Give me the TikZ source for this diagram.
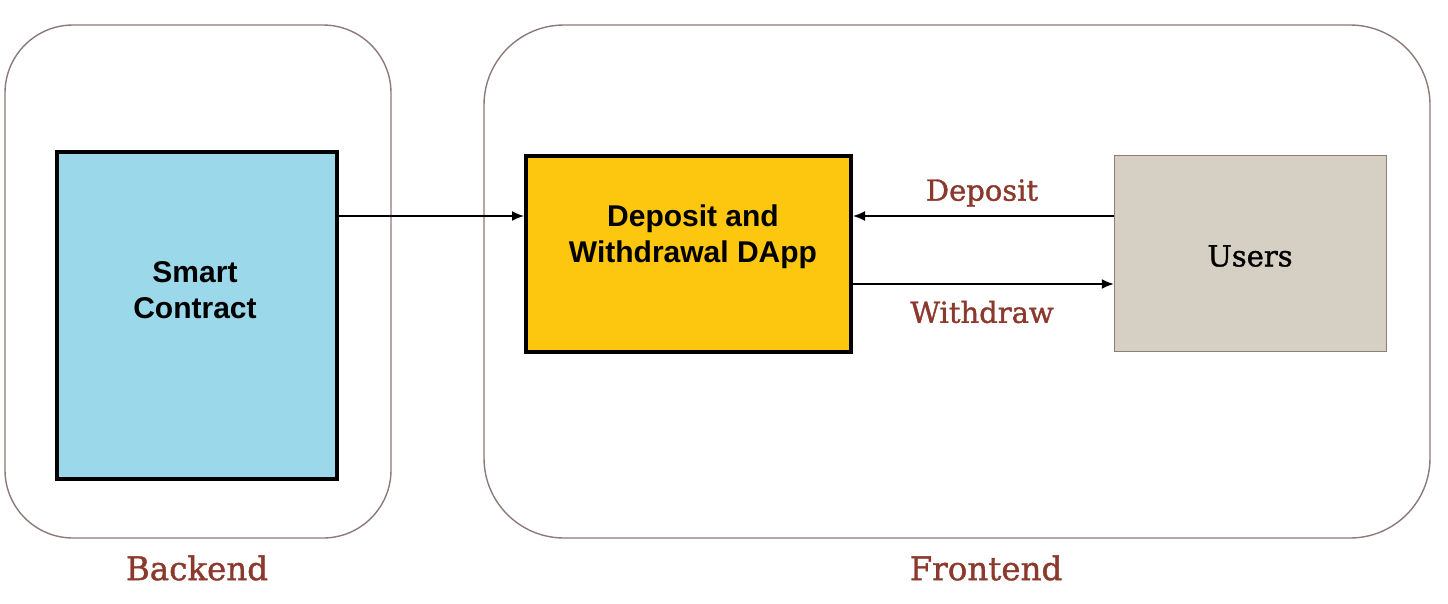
\documentclass[tikz,border=0pt]{standalone}
\usepackage{fontspec}
\setmainfont{DejaVu Serif}
\setsansfont{Liberation Sans}
\newfontfamily\slab[FakeBold=1.2]{DejaVu Serif}
\usetikzlibrary{arrows.meta,calc}
\definecolor{labred}{RGB}{139,57,45}
\definecolor{groupline}{RGB}{140,122,120}
\definecolor{scblue}{RGB}{155,216,233}
\definecolor{dappyellow}{RGB}{252,199,14}
\definecolor{userfill}{RGB}{214,207,195}
\definecolor{userline}{RGB}{142,125,116}
\tikzset{
  group/.style={draw=groupline, line width=1.4pt},
  thickbox/.style={draw=black, line width=4pt, inner sep=0pt},
  boxtext/.style={font=\sffamily\bfseries\fontsize{30}{36.5}\selectfont, align=center, text=black},
  lab/.style={font=\slab\fontsize{29}{34}\selectfont, text=labred},
  grouplab/.style={font=\slab\fontsize{32.5}{38}\selectfont, text=labred},
  conn/.style={draw=black, line width=1.5pt, -{Latex[length=12pt,width=10pt]}}
}
\begin{document}
\begin{tikzpicture}[x=1pt,y=-1pt]
\useasboundingbox (0,0) rectangle (1448,603);
% group boxes
\draw[group, rounded corners=68pt] (5,25) rectangle (391,538);
\draw[group, rounded corners=80pt] (484,25) rectangle (1430,538);
% nodes
\node[thickbox, fill=scblue, minimum width=280pt, minimum height=327pt] (sc) at (197,315.5) {};
\node[boxtext] (sctext) at (195,290) {Smart\\Contract};
\node[thickbox, fill=dappyellow, minimum width=325pt, minimum height=196pt] (dapp) at (688.5,254) {};
\node[boxtext] (dapptext) at (693,236.5) {Deposit and\\Withdrawal DApp};
\node[draw=userline, line width=1.5pt, fill=userfill, minimum width=272pt, minimum height=196pt, inner sep=0pt] (users) at (1250.5,253.5) {};
\node[font=\slab\fontsize{29}{32}\selectfont, text=black] (userstext) at (1250,256) {Users};
% connectors
\draw[conn] (sc.east |- 0,216) -- (dapp.west |- 0,216);
\draw[conn] (users.west |- 0,216) -- (dapp.east |- 0,216);
\draw[conn] (dapp.east |- 0,284) -- (users.west |- 0,284);
% labels
\node[lab] (deplab) at (982,193) {Deposit};
\node[lab] (wdlab) at (982,312) {Withdraw};
\node[grouplab] (backlab) at (197,568) {Backend};
\node[grouplab] (frontlab) at (986,568) {Frontend};
\end{tikzpicture}
\end{document}
